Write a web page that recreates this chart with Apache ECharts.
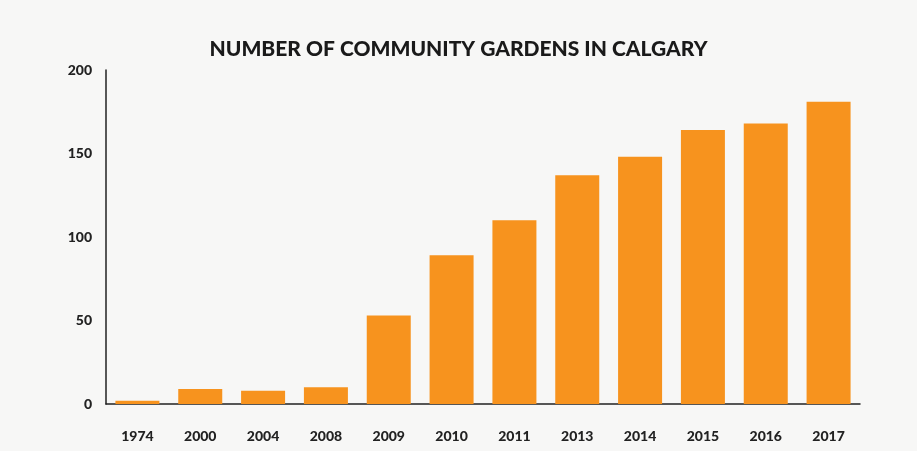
<!DOCTYPE html>
<html>
<head>
<meta charset="utf-8">
<script src="https://cdn.jsdelivr.net/npm/echarts@6/dist/echarts.min.js"></script>
<style>
html,body{margin:0;padding:0;background:#f7f7f6;}
#c{width:917px;height:451px;}
</style>
</head>
<body>
<div id="c"></div>
<script>
const titleText = 'NUMBER OF COMMUNITY GARDENS IN CALGARY';
const years = ['1974','2000','2004','2008','2009','2010','2011','2013','2014','2015','2016','2017'];
const gardens = [2, 9, 8, 10, 53, 89, 110, 137, 148, 164, 168, 181];
const yTicks = [0, 50, 100, 150, 200];

const chart = echarts.init(document.getElementById('c'));
chart.setOption({
  backgroundColor: '#f7f7f6',
  animation: false,
  title: {
    text: titleText,
    left: 'center',
    top: 34,
    textStyle: { fontFamily: 'Lato', fontWeight: 900, fontSize: 21, color: '#1a1a1a' }
  },
  grid: { left: 106, right: 57, top: 70, bottom: 47 },
  xAxis: {
    type: 'category',
    data: years,
    axisLine: { show: true, lineStyle: { color: '#222', width: 1.5 } },
    axisTick: { show: false },
    axisLabel: { margin: 25, fontFamily: 'Lato', fontWeight: 900, fontSize: 14, color: '#222' }
  },
  yAxis: {
    type: 'value',
    min: yTicks[0],
    max: yTicks[yTicks.length - 1],
    interval: yTicks[1] - yTicks[0],
    axisLine: { show: true, lineStyle: { color: '#222', width: 1.5 } },
    axisTick: { show: false },
    splitLine: { show: false },
    axisLabel: { margin: 14, fontFamily: 'Lato', fontWeight: 900, fontSize: 14, color: '#222' }
  },
  series: [{
    type: 'bar',
    data: gardens,
    barWidth: 44,
    itemStyle: { color: '#f7931e' }
  }]
});
</script>
</body>
</html>
